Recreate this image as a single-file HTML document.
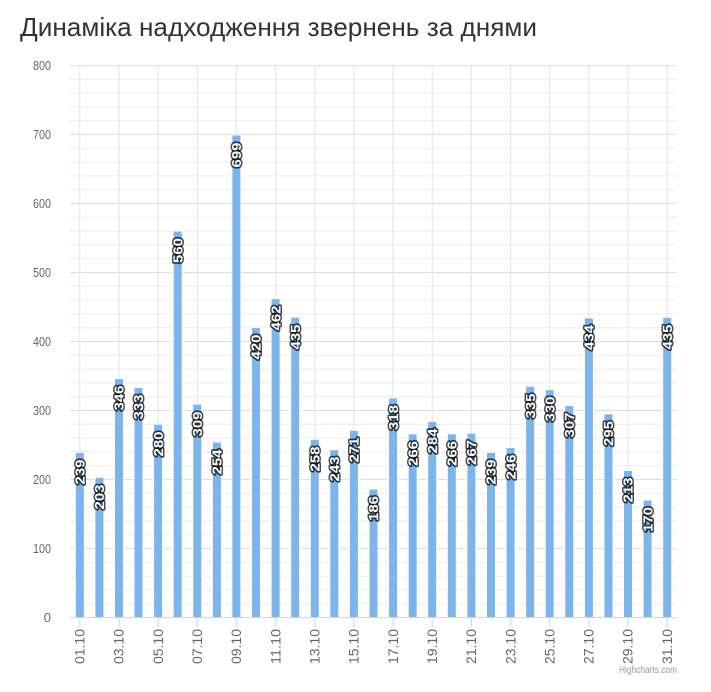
<!DOCTYPE html>
<html><head><meta charset="utf-8"><style>
body{margin:0;background:#fff;}
svg{display:block;font-family:"Liberation Sans",sans-serif;}
</style></head><body>
<svg width="711" height="692" viewBox="0 0 711 692" xmlns="http://www.w3.org/2000/svg">
<rect width="711" height="692" fill="#fff"/>
<text x="20" y="36" font-size="26" fill="#333" textLength="517" lengthAdjust="spacingAndGlyphs">Динаміка надходження звернень за днями</text>
<g id="grid" stroke-width="1">
<g stroke="#ebebeb">
<line x1="70" x2="677" y1="603.7" y2="603.7"/><line x1="70" x2="677" y1="589.9" y2="589.9"/><line x1="70" x2="677" y1="576.1" y2="576.1"/><line x1="70" x2="677" y1="562.3" y2="562.3"/>
<line x1="70" x2="677" y1="534.7" y2="534.7"/><line x1="70" x2="677" y1="520.9" y2="520.9"/><line x1="70" x2="677" y1="507.1" y2="507.1"/><line x1="70" x2="677" y1="493.3" y2="493.3"/>
<line x1="70" x2="677" y1="465.7" y2="465.7"/><line x1="70" x2="677" y1="451.9" y2="451.9"/><line x1="70" x2="677" y1="438.1" y2="438.1"/><line x1="70" x2="677" y1="424.3" y2="424.3"/>
<line x1="70" x2="677" y1="396.7" y2="396.7"/><line x1="70" x2="677" y1="382.9" y2="382.9"/><line x1="70" x2="677" y1="369.1" y2="369.1"/><line x1="70" x2="677" y1="355.3" y2="355.3"/>
<line x1="70" x2="677" y1="327.7" y2="327.7"/><line x1="70" x2="677" y1="313.9" y2="313.9"/><line x1="70" x2="677" y1="300.1" y2="300.1"/><line x1="70" x2="677" y1="286.3" y2="286.3"/>
<line x1="70" x2="677" y1="258.7" y2="258.7"/><line x1="70" x2="677" y1="244.9" y2="244.9"/><line x1="70" x2="677" y1="231.1" y2="231.1"/><line x1="70" x2="677" y1="217.3" y2="217.3"/>
<line x1="70" x2="677" y1="189.7" y2="189.7"/><line x1="70" x2="677" y1="175.9" y2="175.9"/><line x1="70" x2="677" y1="162.1" y2="162.1"/><line x1="70" x2="677" y1="148.3" y2="148.3"/>
<line x1="70" x2="677" y1="120.7" y2="120.7"/><line x1="70" x2="677" y1="106.9" y2="106.9"/><line x1="70" x2="677" y1="93.1" y2="93.1"/><line x1="70" x2="677" y1="79.3" y2="79.3"/>
</g>
<g stroke="#dedede">
<line x1="70" x2="677" y1="548.5" y2="548.5"/><line x1="70" x2="677" y1="479.5" y2="479.5"/><line x1="70" x2="677" y1="410.5" y2="410.5"/><line x1="70" x2="677" y1="341.5" y2="341.5"/><line x1="70" x2="677" y1="272.5" y2="272.5"/><line x1="70" x2="677" y1="203.5" y2="203.5"/><line x1="70" x2="677" y1="134.5" y2="134.5"/><line x1="70" x2="677" y1="65.5" y2="65.5"/>
</g>
<g stroke="#e3e3e3">
<line x1="79.8" x2="79.8" y1="65.5" y2="617.5"/><line x1="119" x2="119" y1="65.5" y2="617.5"/><line x1="158.1" x2="158.1" y1="65.5" y2="617.5"/><line x1="197.3" x2="197.3" y1="65.5" y2="617.5"/><line x1="236.4" x2="236.4" y1="65.5" y2="617.5"/><line x1="275.6" x2="275.6" y1="65.5" y2="617.5"/><line x1="314.8" x2="314.8" y1="65.5" y2="617.5"/><line x1="353.9" x2="353.9" y1="65.5" y2="617.5"/><line x1="393.1" x2="393.1" y1="65.5" y2="617.5"/><line x1="432.2" x2="432.2" y1="65.5" y2="617.5"/><line x1="471.4" x2="471.4" y1="65.5" y2="617.5"/><line x1="510.6" x2="510.6" y1="65.5" y2="617.5"/><line x1="549.7" x2="549.7" y1="65.5" y2="617.5"/><line x1="588.9" x2="588.9" y1="65.5" y2="617.5"/><line x1="628" x2="628" y1="65.5" y2="617.5"/><line x1="667.2" x2="667.2" y1="65.5" y2="617.5"/>
</g>
</g>
<g font-size="13" fill="#666" text-anchor="end">
<text x="51" y="622">0</text><text x="51" y="553" textLength="18" lengthAdjust="spacingAndGlyphs">100</text><text x="51" y="484" textLength="18" lengthAdjust="spacingAndGlyphs">200</text><text x="51" y="415" textLength="18" lengthAdjust="spacingAndGlyphs">300</text><text x="51" y="346" textLength="18" lengthAdjust="spacingAndGlyphs">400</text><text x="51" y="277" textLength="18" lengthAdjust="spacingAndGlyphs">500</text><text x="51" y="208" textLength="18" lengthAdjust="spacingAndGlyphs">600</text><text x="51" y="139" textLength="18" lengthAdjust="spacingAndGlyphs">700</text><text x="51" y="70" textLength="18" lengthAdjust="spacingAndGlyphs">800</text>
</g>
<g transform="translate(0,617.5) scale(1,-0.69)" fill="#7cb5ec" stroke="#fff" stroke-width="1" vector-effect="non-scaling-stroke">
<rect x="75.3" y="0" width="9" height="239"/><rect x="94.9" y="0" width="9" height="203"/><rect x="114.5" y="0" width="9" height="346"/><rect x="134" y="0" width="9" height="333"/><rect x="153.6" y="0" width="9" height="280"/><rect x="173.2" y="0" width="9" height="560"/><rect x="192.8" y="0" width="9" height="309"/><rect x="212.4" y="0" width="9" height="254"/><rect x="231.9" y="0" width="9" height="699"/><rect x="251.5" y="0" width="9" height="420"/><rect x="271.1" y="0" width="9" height="462"/><rect x="290.7" y="0" width="9" height="435"/><rect x="310.3" y="0" width="9" height="258"/><rect x="329.8" y="0" width="9" height="243"/><rect x="349.4" y="0" width="9" height="271"/><rect x="369" y="0" width="9" height="186"/><rect x="388.6" y="0" width="9" height="318"/><rect x="408.2" y="0" width="9" height="266"/><rect x="427.7" y="0" width="9" height="284"/><rect x="447.3" y="0" width="9" height="266"/><rect x="466.9" y="0" width="9" height="267"/><rect x="486.5" y="0" width="9" height="239"/><rect x="506.1" y="0" width="9" height="246"/><rect x="525.6" y="0" width="9" height="335"/><rect x="545.2" y="0" width="9" height="330"/><rect x="564.8" y="0" width="9" height="307"/><rect x="584.4" y="0" width="9" height="434"/><rect x="604" y="0" width="9" height="295"/><rect x="623.5" y="0" width="9" height="213"/><rect x="643.1" y="0" width="9" height="170"/><rect x="662.7" y="0" width="9" height="435"/>
</g>
<line x1="70" x2="677" y1="617.5" y2="617.5" stroke="#ccd6eb"/>
<g stroke="#ccd6eb"><line x1="79.8" x2="79.8" y1="618" y2="627"/><line x1="119" x2="119" y1="618" y2="627"/><line x1="158.1" x2="158.1" y1="618" y2="627"/><line x1="197.3" x2="197.3" y1="618" y2="627"/><line x1="236.4" x2="236.4" y1="618" y2="627"/><line x1="275.6" x2="275.6" y1="618" y2="627"/><line x1="314.8" x2="314.8" y1="618" y2="627"/><line x1="353.9" x2="353.9" y1="618" y2="627"/><line x1="393.1" x2="393.1" y1="618" y2="627"/><line x1="432.2" x2="432.2" y1="618" y2="627"/><line x1="471.4" x2="471.4" y1="618" y2="627"/><line x1="510.6" x2="510.6" y1="618" y2="627"/><line x1="549.7" x2="549.7" y1="618" y2="627"/><line x1="588.9" x2="588.9" y1="618" y2="627"/><line x1="628" x2="628" y1="618" y2="627"/><line x1="667.2" x2="667.2" y1="618" y2="627"/></g>
<g font-size="14" fill="#666" text-anchor="end">
<text transform="translate(84.5,629) rotate(-90)" textLength="35" lengthAdjust="spacingAndGlyphs">01.10</text><text transform="translate(123.7,629) rotate(-90)" textLength="35" lengthAdjust="spacingAndGlyphs">03.10</text><text transform="translate(162.8,629) rotate(-90)" textLength="35" lengthAdjust="spacingAndGlyphs">05.10</text><text transform="translate(202,629) rotate(-90)" textLength="35" lengthAdjust="spacingAndGlyphs">07.10</text><text transform="translate(241.1,629) rotate(-90)" textLength="35" lengthAdjust="spacingAndGlyphs">09.10</text><text transform="translate(280.3,629) rotate(-90)" textLength="35" lengthAdjust="spacingAndGlyphs">11.10</text><text transform="translate(319.5,629) rotate(-90)" textLength="35" lengthAdjust="spacingAndGlyphs">13.10</text><text transform="translate(358.6,629) rotate(-90)" textLength="35" lengthAdjust="spacingAndGlyphs">15.10</text><text transform="translate(397.8,629) rotate(-90)" textLength="35" lengthAdjust="spacingAndGlyphs">17.10</text><text transform="translate(436.9,629) rotate(-90)" textLength="35" lengthAdjust="spacingAndGlyphs">19.10</text><text transform="translate(476.1,629) rotate(-90)" textLength="35" lengthAdjust="spacingAndGlyphs">21.10</text><text transform="translate(515.3,629) rotate(-90)" textLength="35" lengthAdjust="spacingAndGlyphs">23.10</text><text transform="translate(554.4,629) rotate(-90)" textLength="35" lengthAdjust="spacingAndGlyphs">25.10</text><text transform="translate(593.6,629) rotate(-90)" textLength="35" lengthAdjust="spacingAndGlyphs">27.10</text><text transform="translate(632.7,629) rotate(-90)" textLength="35" lengthAdjust="spacingAndGlyphs">29.10</text><text transform="translate(671.9,629) rotate(-90)" textLength="35" lengthAdjust="spacingAndGlyphs">31.10</text>
</g>
<g font-size="13" font-weight="bold" fill="#fff" stroke="#000" stroke-width="3" stroke-opacity="0.7" paint-order="stroke" text-anchor="middle" stroke-linejoin="round">
<text transform="translate(84.5,472) rotate(-90)" textLength="25" lengthAdjust="spacingAndGlyphs">239</text>
<text transform="translate(104.1,497) rotate(-90)" textLength="25" lengthAdjust="spacingAndGlyphs">203</text>
<text transform="translate(123.7,398) rotate(-90)" textLength="25" lengthAdjust="spacingAndGlyphs">346</text>
<text transform="translate(143.2,407) rotate(-90)" textLength="25" lengthAdjust="spacingAndGlyphs">333</text>
<text transform="translate(162.8,444) rotate(-90)" textLength="25" lengthAdjust="spacingAndGlyphs">280</text>
<text transform="translate(182.4,250.5) rotate(-90)" textLength="25" lengthAdjust="spacingAndGlyphs">560</text>
<text transform="translate(202,424) rotate(-90)" textLength="25" lengthAdjust="spacingAndGlyphs">309</text>
<text transform="translate(221.6,462) rotate(-90)" textLength="25" lengthAdjust="spacingAndGlyphs">254</text>
<text transform="translate(241.1,155) rotate(-90)" textLength="25" lengthAdjust="spacingAndGlyphs">699</text>
<text transform="translate(260.7,347) rotate(-90)" textLength="25" lengthAdjust="spacingAndGlyphs">420</text>
<text transform="translate(280.3,318) rotate(-90)" textLength="25" lengthAdjust="spacingAndGlyphs">462</text>
<text transform="translate(299.9,337) rotate(-90)" textLength="25" lengthAdjust="spacingAndGlyphs">435</text>
<text transform="translate(319.5,459) rotate(-90)" textLength="25" lengthAdjust="spacingAndGlyphs">258</text>
<text transform="translate(339,469) rotate(-90)" textLength="25" lengthAdjust="spacingAndGlyphs">243</text>
<text transform="translate(358.6,450) rotate(-90)" textLength="25" lengthAdjust="spacingAndGlyphs">271</text>
<text transform="translate(378.2,508.5) rotate(-90)" textLength="25" lengthAdjust="spacingAndGlyphs">186</text>
<text transform="translate(397.8,417.5) rotate(-90)" textLength="25" lengthAdjust="spacingAndGlyphs">318</text>
<text transform="translate(417.4,453.5) rotate(-90)" textLength="25" lengthAdjust="spacingAndGlyphs">266</text>
<text transform="translate(436.9,441) rotate(-90)" textLength="25" lengthAdjust="spacingAndGlyphs">284</text>
<text transform="translate(456.5,453.5) rotate(-90)" textLength="25" lengthAdjust="spacingAndGlyphs">266</text>
<text transform="translate(476.1,452.5) rotate(-90)" textLength="25" lengthAdjust="spacingAndGlyphs">267</text>
<text transform="translate(495.7,472) rotate(-90)" textLength="25" lengthAdjust="spacingAndGlyphs">239</text>
<text transform="translate(515.3,467) rotate(-90)" textLength="25" lengthAdjust="spacingAndGlyphs">246</text>
<text transform="translate(534.8,406) rotate(-90)" textLength="25" lengthAdjust="spacingAndGlyphs">335</text>
<text transform="translate(554.4,409) rotate(-90)" textLength="25" lengthAdjust="spacingAndGlyphs">330</text>
<text transform="translate(574,425) rotate(-90)" textLength="25" lengthAdjust="spacingAndGlyphs">307</text>
<text transform="translate(593.6,337.5) rotate(-90)" textLength="25" lengthAdjust="spacingAndGlyphs">434</text>
<text transform="translate(613.2,433.5) rotate(-90)" textLength="25" lengthAdjust="spacingAndGlyphs">295</text>
<text transform="translate(632.7,490) rotate(-90)" textLength="25" lengthAdjust="spacingAndGlyphs">213</text>
<text transform="translate(652.3,519.5) rotate(-90)" textLength="25" lengthAdjust="spacingAndGlyphs">170</text>
<text transform="translate(671.9,337) rotate(-90)" textLength="25" lengthAdjust="spacingAndGlyphs">435</text>
</g>
<text x="677" y="673" font-size="10" fill="#999" text-anchor="end" textLength="58" lengthAdjust="spacingAndGlyphs">Highcharts.com</text>
</svg>
</body></html>
